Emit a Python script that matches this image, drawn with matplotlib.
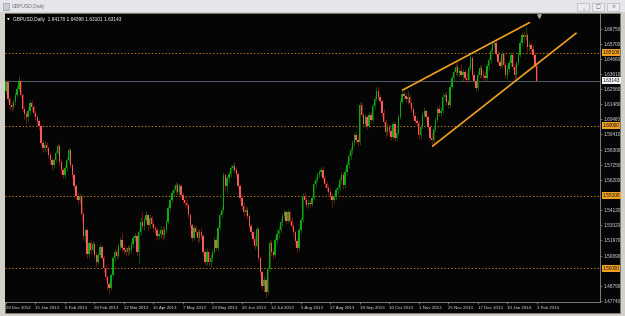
import matplotlib
matplotlib.use('Agg')
import matplotlib.pyplot as plt
from matplotlib.patches import Rectangle

# GBPUSD daily candles, 28 Dec 2012 .. 3 Feb 2014
first_open = 1.6240
closes = [
    1.6304, 1.6184, 1.6142, 1.6128, 1.6163, 1.6212, 1.6254, 1.6311, 1.6212, 1.6114, 1.6078, 1.6057, 1.6100, 1.6156, 1.6128, 1.6085,
    1.6057, 1.6029, 1.5994, 1.5881, 1.5846, 1.5867, 1.5846, 1.5797, 1.5762, 1.5726, 1.5762, 1.5811, 1.5860, 1.5748, 1.5691, 1.5656,
    1.5705, 1.5762, 1.5832, 1.5726, 1.5656, 1.5579, 1.5508, 1.5480, 1.5508, 1.5381, 1.5227, 1.5269, 1.5100, 1.5177, 1.5128, 1.5170,
    1.5093, 1.5044, 1.5093, 1.5149, 1.5072, 1.5001, 1.4938, 1.4888, 1.4860, 1.4952, 1.5072, 1.5114, 1.5086, 1.5156, 1.5198, 1.5142,
    1.5128, 1.5114, 1.5142, 1.5128, 1.5170, 1.5212, 1.5227, 1.5114, 1.5255, 1.5325, 1.5297, 1.5339, 1.5374, 1.5304, 1.5353, 1.5311,
    1.5283, 1.5269, 1.5227, 1.5241, 1.5269, 1.5234, 1.5269, 1.5325, 1.5424, 1.5480, 1.5529, 1.5550, 1.5586, 1.5536, 1.5579, 1.5515,
    1.5480, 1.5459, 1.5445, 1.5374, 1.5304, 1.5212, 1.5283, 1.5255, 1.5212, 1.5255, 1.5227, 1.5114, 1.5044, 1.5114, 1.5044, 1.5072,
    1.5114, 1.5198, 1.5142, 1.5283, 1.5374, 1.5410, 1.5656, 1.5579, 1.5635, 1.5663, 1.5705, 1.5719, 1.5691, 1.5663, 1.5579, 1.5494,
    1.5438, 1.5396, 1.5410, 1.5367, 1.5297, 1.5255, 1.5205, 1.5156, 1.5276, 1.5072, 1.4973, 1.4875, 1.4916, 1.4832, 1.4994, 1.5177,
    1.5114, 1.5093, 1.5198, 1.5241, 1.5269, 1.5325, 1.5367, 1.5396, 1.5332, 1.5396, 1.5332, 1.5297, 1.5255, 1.5191, 1.5142, 1.5269,
    1.5339, 1.5508, 1.5480, 1.5445, 1.5459, 1.5452, 1.5494, 1.5593, 1.5621, 1.5656, 1.5677, 1.5691, 1.5635, 1.5593, 1.5565, 1.5536,
    1.5508, 1.5480, 1.5501, 1.5550, 1.5565, 1.5621, 1.5656, 1.5586, 1.5677, 1.5726, 1.5790, 1.5832, 1.5881, 1.5931, 1.5902, 1.5888,
    1.6142, 1.6071, 1.6008, 1.6057, 1.5994, 1.6071, 1.6036, 1.6135, 1.6184, 1.6240, 1.6198, 1.6170, 1.6085, 1.6022, 1.5952, 1.5987,
    1.5959, 1.5923, 1.6008, 1.5916, 1.5945, 1.6057, 1.6163, 1.6219, 1.6205, 1.6184, 1.6198, 1.6156, 1.6114, 1.6064, 1.6029, 1.6015,
    1.5931, 1.5987, 1.6071, 1.6100, 1.6057, 1.5987, 1.5916, 1.5902, 1.5973, 1.6036, 1.6114, 1.6085, 1.6100, 1.6198, 1.6212, 1.6163,
    1.6142, 1.6269, 1.6332, 1.6374, 1.6409, 1.6367, 1.6381, 1.6353, 1.6374, 1.6332, 1.6318, 1.6402, 1.6473, 1.6353, 1.6311, 1.6261,
    1.6353, 1.6402, 1.6353, 1.6346, 1.6332, 1.6416, 1.6459, 1.6522, 1.6571, 1.6578, 1.6501, 1.6445, 1.6416, 1.6501, 1.6423, 1.6353,
    1.6395, 1.6437, 1.6494, 1.6409, 1.6353, 1.6437, 1.6494, 1.6578, 1.6635, 1.6620, 1.6635, 1.6550, 1.6564, 1.6536, 1.6494, 1.64178,
    1.63143,
]
highs = [
    1.6325, 1.6318, 1.6198, 1.6163, 1.6184, 1.6233, 1.6283, 1.6346, 1.6325, 1.6226, 1.6135, 1.6100, 1.6128, 1.6177, 1.6177, 1.6142,
    1.6107, 1.6071, 1.6043, 1.6008, 1.5902, 1.5895, 1.5888, 1.5860, 1.5818, 1.5783, 1.5776, 1.5832, 1.5881, 1.5874, 1.5769, 1.5712,
    1.5726, 1.5783, 1.5846, 1.5846, 1.5740, 1.5670, 1.5593, 1.5536, 1.5529, 1.5522, 1.5396, 1.5283, 1.5283, 1.5191, 1.5198, 1.5191,
    1.5184, 1.5114, 1.5107, 1.5170, 1.5163, 1.5086, 1.5022, 1.4952, 1.4902, 1.4966, 1.5086, 1.5135, 1.5135, 1.5177, 1.5220, 1.5248,
    1.5170, 1.5149, 1.5163, 1.5163, 1.5191, 1.5234, 1.5248, 1.5241, 1.5276, 1.5360, 1.5396, 1.5360, 1.5403, 1.5389, 1.5381, 1.5374,
    1.5339, 1.5304, 1.5290, 1.5269, 1.5297, 1.5290, 1.5297, 1.5346, 1.5445, 1.5501, 1.5550, 1.5579, 1.5607, 1.5600, 1.5600, 1.5593,
    1.5536, 1.5508, 1.5487, 1.5459, 1.5389, 1.5318, 1.5304, 1.5304, 1.5276, 1.5276, 1.5283, 1.5241, 1.5135, 1.5142, 1.5128, 1.5100,
    1.5135, 1.5220, 1.5227, 1.5304, 1.5396, 1.5438, 1.5677, 1.5670, 1.5656, 1.5684, 1.5726, 1.5740, 1.5748, 1.5712, 1.5677, 1.5593,
    1.5522, 1.5459, 1.5438, 1.5431, 1.5389, 1.5318, 1.5269, 1.5227, 1.5297, 1.5290, 1.5086, 1.4987, 1.4945, 1.4931, 1.5015, 1.5198,
    1.5198, 1.5142, 1.5220, 1.5269, 1.5297, 1.5346, 1.5389, 1.5417, 1.5410, 1.5417, 1.5410, 1.5360, 1.5318, 1.5269, 1.5212, 1.5290,
    1.5360, 1.5529, 1.5536, 1.5501, 1.5487, 1.5487, 1.5515, 1.5614, 1.5642, 1.5677, 1.5698, 1.5712, 1.5719, 1.5656, 1.5614, 1.5586,
    1.5565, 1.5529, 1.5529, 1.5572, 1.5593, 1.5642, 1.5677, 1.5670, 1.5698, 1.5748, 1.5811, 1.5853, 1.5902, 1.5952, 1.5952, 1.5938,
    1.6163, 1.6163, 1.6093, 1.6078, 1.6071, 1.6093, 1.6093, 1.6156, 1.6205, 1.6269, 1.6269, 1.6219, 1.6184, 1.6114, 1.6043, 1.6015,
    1.6008, 1.5987, 1.6029, 1.6022, 1.5973, 1.6078, 1.6184, 1.6254, 1.6240, 1.6233, 1.6240, 1.6219, 1.6177, 1.6135, 1.6085, 1.6050,
    1.6036, 1.6008, 1.6093, 1.6128, 1.6114, 1.6078, 1.6008, 1.5952, 1.5994, 1.6057, 1.6135, 1.6142, 1.6128, 1.6226, 1.6233, 1.6233,
    1.6184, 1.6290, 1.6353, 1.6395, 1.6430, 1.6452, 1.6409, 1.6430, 1.6395, 1.6395, 1.6381, 1.6423, 1.6494, 1.6487, 1.6374, 1.6332,
    1.6381, 1.6423, 1.6423, 1.6388, 1.6381, 1.6437, 1.6480, 1.6543, 1.6592, 1.6599, 1.6613, 1.6522, 1.6473, 1.6522, 1.6515, 1.6445,
    1.6423, 1.6459, 1.6515, 1.6508, 1.6430, 1.6452, 1.6515, 1.6599, 1.6656, 1.6663, 1.6691, 1.6649, 1.6592, 1.6585, 1.6571, 1.6515,
    1.64398,
]
lows = [
    1.6219, 1.6163, 1.6114, 1.6100, 1.6114, 1.6142, 1.6198, 1.6240, 1.6198, 1.6093, 1.6043, 1.6015, 1.6029, 1.6071, 1.6100, 1.6064,
    1.6036, 1.6001, 1.5966, 1.5860, 1.5818, 1.5818, 1.5825, 1.5776, 1.5733, 1.5691, 1.5705, 1.5748, 1.5797, 1.5726, 1.5663, 1.5635,
    1.5635, 1.5684, 1.5748, 1.5705, 1.5635, 1.5557, 1.5487, 1.5452, 1.5459, 1.5325, 1.5198, 1.5184, 1.5072, 1.5079, 1.5100, 1.5114,
    1.5072, 1.5015, 1.5029, 1.5072, 1.5051, 1.4973, 1.4916, 1.4846, 1.4818, 1.4846, 1.4938, 1.5051, 1.5065, 1.5072, 1.5135, 1.5121,
    1.5100, 1.5086, 1.5093, 1.5100, 1.5107, 1.5149, 1.5191, 1.5093, 1.5036, 1.5234, 1.5276, 1.5269, 1.5318, 1.5269, 1.5283, 1.5290,
    1.5255, 1.5241, 1.5198, 1.5205, 1.5212, 1.5198, 1.5212, 1.5248, 1.5311, 1.5403, 1.5459, 1.5508, 1.5529, 1.5515, 1.5515, 1.5494,
    1.5459, 1.5438, 1.5417, 1.5353, 1.5283, 1.5191, 1.5198, 1.5227, 1.5177, 1.5191, 1.5198, 1.5086, 1.5022, 1.5022, 1.5015, 1.5008,
    1.5044, 1.5100, 1.5128, 1.5121, 1.5269, 1.5353, 1.5396, 1.5550, 1.5529, 1.5607, 1.5642, 1.5684, 1.5670, 1.5642, 1.5557, 1.5473,
    1.5417, 1.5367, 1.5367, 1.5346, 1.5276, 1.5234, 1.5184, 1.5135, 1.5135, 1.5051, 1.4945, 1.4846, 1.4832, 1.4797, 1.4818, 1.4980,
    1.5086, 1.5065, 1.5079, 1.5170, 1.5212, 1.5248, 1.5297, 1.5346, 1.5311, 1.5318, 1.5311, 1.5276, 1.5227, 1.5170, 1.5114, 1.5128,
    1.5248, 1.5325, 1.5459, 1.5424, 1.5424, 1.5431, 1.5438, 1.5480, 1.5572, 1.5607, 1.5635, 1.5649, 1.5614, 1.5572, 1.5543, 1.5515,
    1.5487, 1.5431, 1.5459, 1.5480, 1.5522, 1.5543, 1.5593, 1.5557, 1.5565, 1.5656, 1.5705, 1.5769, 1.5804, 1.5860, 1.5881, 1.5860,
    1.5867, 1.6057, 1.5987, 1.5987, 1.5973, 1.5980, 1.6015, 1.6022, 1.6114, 1.6170, 1.6177, 1.6149, 1.6057, 1.6001, 1.5923, 1.5931,
    1.5938, 1.5902, 1.5909, 1.5895, 1.5902, 1.5931, 1.6043, 1.6149, 1.6184, 1.6163, 1.6149, 1.6135, 1.6093, 1.6043, 1.6015, 1.5994,
    1.5909, 1.5909, 1.5973, 1.6050, 1.6036, 1.5966, 1.5895, 1.5853, 1.5881, 1.5952, 1.6022, 1.6064, 1.6064, 1.6085, 1.6177, 1.6142,
    1.6121, 1.6128, 1.6254, 1.6311, 1.6353, 1.6346, 1.6339, 1.6339, 1.6311, 1.6311, 1.6297, 1.6304, 1.6388, 1.6339, 1.6290, 1.6240,
    1.6247, 1.6332, 1.6332, 1.6325, 1.6311, 1.6318, 1.6395, 1.6437, 1.6501, 1.6550, 1.6487, 1.6423, 1.6395, 1.6402, 1.6402, 1.6332,
    1.6325, 1.6374, 1.6416, 1.6388, 1.6325, 1.6332, 1.6423, 1.6480, 1.6557, 1.6585, 1.6599, 1.6515, 1.6522, 1.6508, 1.6473, 1.6410,
    1.63101,
]

date_labels = ['28 Dec 2012', '15 Jan 2013', '6 Feb 2013', '28 Feb 2013', '22 Mar 2013', '15 Apr 2013',
               '7 May 2013', '29 May 2013', '20 Jun 2013', '12 Jul 2013', '5 Aug 2013', '27 Aug 2013',
               '18 Sep 2013', '10 Oct 2013', '1 Nov 2013', '25 Nov 2013', '17 Dec 2013', '10 Jan 2014', '3 Feb 2014']
date_bars = [0, 16, 32, 48, 64, 80, 96, 112, 128, 144, 160, 176, 192, 208, 224, 240, 256, 272, 288]

price_ticks = [1.66750, 1.65700, 1.64660, 1.63610, 1.62560, 1.61480, 1.60460, 1.59410, 1.58300,
               1.57250, 1.56200, 1.54120, 1.53020, 1.51970, 1.50890, 1.48790, 1.47740]
levels = [1.65100, 1.60000, 1.55100, 1.50000]
bid = 1.63143

# channel lines (bar index, price)
upper_line = ([215.3, 284.0], [1.62492, 1.67203])
lower_line = ([231.6, 309.3], [1.58572, 1.66461])

W, H = 625, 316
plt.rcParams['font.family'] = ['Liberation Sans', 'DejaVu Sans']
fig = plt.figure(figsize=(W / 100, H / 100), dpi=100, facecolor='#d4d0c8')

# window title bar + black chart panel
fig.patches.append(Rectangle((0, 1 - 12 / H), 1, 12 / H, transform=fig.transFigure,
                             facecolor='#e6e6ea', edgecolor='none', zorder=0))
fig.patches.append(Rectangle((5 / W, 3 / H), 615 / W, 300 / H, transform=fig.transFigure,
                             facecolor='#050505', edgecolor='#808080', linewidth=0.5, zorder=0))
fig.text(12 / W, 1 - 6.5 / H, 'GBPUSD,Daily', fontsize=3.6, color='#707070', va='center')
fig.patches.append(Rectangle((3 / W, 1 - 10 / H), 6 / W, 7 / H, transform=fig.transFigure,
                             facecolor='#c8ccd8', edgecolor='#8890a0', linewidth=0.4))
for bx, glyph in [(577, '_'), (592, '□'), (607, '×')]:
    fig.patches.append(Rectangle((bx / W, 1 - 11 / H), 12 / W, 8 / H, transform=fig.transFigure,
                                 facecolor='#ececf0', edgecolor='#a8a8b0', linewidth=0.4))
    fig.text((bx + 6) / W, 1 - 7 / H, glyph, fontsize=3.5, color='#606060', ha='center', va='center',
             family=['DejaVu Sans'])

ax = fig.add_axes([5 / W, 14 / H, 595 / W, 288 / H], facecolor='#050505')
ax.set_zorder(2)

ax.text(0.003, 0.982, '▼', transform=ax.transAxes, fontsize=2.5, color='white', va='center',
        family=['DejaVu Sans'])
ax.text(0.013, 0.982, 'GBPUSD,Daily  1.64178 1.64398 1.63101 1.63143', transform=ax.transAxes,
        fontsize=3.4, color='white', va='center')

opens = [first_open] + closes[:-1]
for i, (o, c, hi, lo) in enumerate(zip(opens, closes, highs, lows)):
    up = c >= o
    body = '#10a810' if up else '#f25c5c'
    wick = '#0a640a' if up else '#901010'
    ax.vlines(i, min(lo, o, c), max(hi, o, c), color=wick, linewidth=0.6, zorder=2)
    ax.bar(i, max(abs(c - o), 0.00012), bottom=min(o, c), width=0.75,
           color=body, edgecolor='none', zorder=3)

for lv in levels:
    ax.axhline(lv, color='#b8781e', linewidth=0.7, linestyle=(0, (1.5, 2)), zorder=1)
ax.axhline(bid, color='#5c6a7a', linewidth=0.6, zorder=1)

ax.plot(upper_line[0], upper_line[1], color='#f0a020', linewidth=1.2, zorder=4)
ax.plot(lower_line[0], lower_line[1], color='#f0a020', linewidth=1.2, zorder=4)
ax.plot([289.5], [1.67652], marker='v', markersize=2.5, color='#a0a0a0', zorder=5, clip_on=False)

ax.set_xlim(-0.54, 322.35)
ax.set_ylim(1.47652, 1.67812)

for s in ['left', 'top']:
    ax.spines[s].set_visible(False)
for s in ['right', 'bottom']:
    ax.spines[s].set_color('#909090')
    ax.spines[s].set_linewidth(0.6)

ax.yaxis.tick_right()
ax.set_yticks(price_ticks)
ax.set_yticklabels(['%.5f' % p for p in price_ticks])
ax.tick_params(axis='y', length=1.5, width=0.5, color='#909090', labelsize=3.4,
               labelcolor='#d8d8d8', pad=1.2)
ax.set_xticks(date_bars)
ax.set_xticklabels(date_labels, ha='left')
ax.tick_params(axis='x', length=1.5, width=0.5, color='#909090', labelsize=3.2,
               labelcolor='#d8d8d8', pad=1.5)

tr = ax.get_yaxis_transform()
for lv in levels:
    ax.text(1.004, lv, '%.5f' % lv, transform=tr, fontsize=3.4, color='#101010', ha='left', va='center',
            bbox=dict(boxstyle='square,pad=0.18', facecolor='#f0a020', edgecolor='none'), zorder=6)
ax.text(1.004, bid, '%.5f' % bid, transform=tr, fontsize=3.4, color='#101010', ha='left', va='center',
        bbox=dict(boxstyle='square,pad=0.18', facecolor='#f4f4f4', edgecolor='none'), zorder=6)

fig.savefig('out.png', dpi=100, facecolor=fig.get_facecolor())
